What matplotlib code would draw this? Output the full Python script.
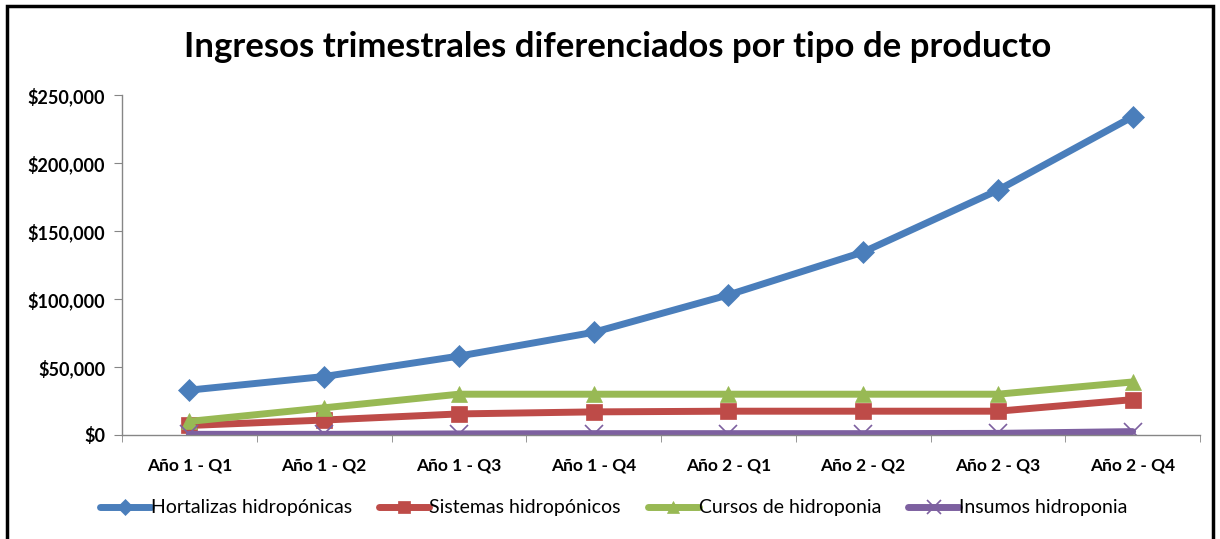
import matplotlib.pyplot as plt
from matplotlib.patches import Rectangle
from matplotlib.ticker import FuncFormatter, FixedLocator

plt.rcParams['font.family'] = ['Lato', 'DejaVu Sans']

quarters = ['Año 1 - Q1', 'Año 1 - Q2', 'Año 1 - Q3', 'Año 1 - Q4',
            'Año 2 - Q1', 'Año 2 - Q2', 'Año 2 - Q3', 'Año 2 - Q4']
hortalizas = [33000, 43000, 58000, 75500, 103000, 134500, 180000, 234000]
sistemas = [7000, 11000, 15500, 17000, 17500, 17500, 17500, 26000]
cursos = [10000, 20000, 30000, 30000, 30000, 30000, 30000, 39000]
insumos = [500, 500, 800, 1000, 1000, 1000, 1200, 2500]

series = [
    ('Hortalizas hidropónicas', hortalizas, '#4A7EBB', 'D', 11),
    ('Sistemas hidropónicos', sistemas, '#BE4B48', 's', 11),
    ('Cursos de hidroponia', cursos, '#98B954', '^', 12),
    ('Insumos hidroponia', insumos, '#7D60A0', 'x', 13),
]

fig = plt.figure(figsize=(12.2, 5.39), dpi=100)
ax = fig.add_axes([122 / 1220, 1 - 435 / 539, 1078 / 1220, 340 / 539])

x = list(range(len(quarters)))
for name, vals, col, mk, ms in series:
    ax.plot(x, vals, color=col, lw=5, marker=mk, markersize=ms,
            markeredgecolor=col, markeredgewidth=1.2 if mk == 'x' else 0.5,
            label=name, solid_capstyle='round')

ax.set_xlim(-0.5, len(quarters) - 0.5)
ax.set_ylim(0, 250000)
ax.set_xticks(x, quarters)
ax.xaxis.set_minor_locator(FixedLocator([i - 0.5 for i in range(len(quarters) + 1)]))
ax.tick_params(axis='x', which='major', length=0, pad=16)
ax.tick_params(axis='x', which='minor', length=5, color='#868686')
ax.set_yticks(range(0, 250001, 50000))
ax.yaxis.set_major_formatter(FuncFormatter(lambda v, p: f'${v:,.0f}'))
ax.tick_params(axis='y', length=6, color='#868686', pad=6)
for lbl in ax.get_xticklabels():
    lbl.set_fontweight('bold')
    lbl.set_fontsize(12.5)
for lbl in ax.get_yticklabels():
    lbl.set_fontweight('bold')
    lbl.set_fontsize(13)
for side in ['top', 'right']:
    ax.spines[side].set_visible(False)
for side in ['left', 'bottom']:
    ax.spines[side].set_color('#868686')
    ax.spines[side].set_linewidth(1)

fig.text(0.506, 1 - 47 / 539, 'Ingresos trimestrales diferenciados por tipo de producto',
         ha='center', va='center', fontsize=25, fontweight='bold')

ax.legend(loc='center', bbox_to_anchor=(0.503, 1 - 508 / 539), bbox_transform=fig.transFigure,
          ncol=4, frameon=False, fontsize=14, handlelength=2.6, handletextpad=0.0,
          columnspacing=1.4, markerscale=0.75)

fig.patches.append(Rectangle((7 / 1220, -0.05), 1206 / 1220, 1 - 6 / 539 + 0.05,
                             transform=fig.transFigure, fill=False,
                             edgecolor='black', lw=2.5))

fig.savefig('out.png', dpi=100)
